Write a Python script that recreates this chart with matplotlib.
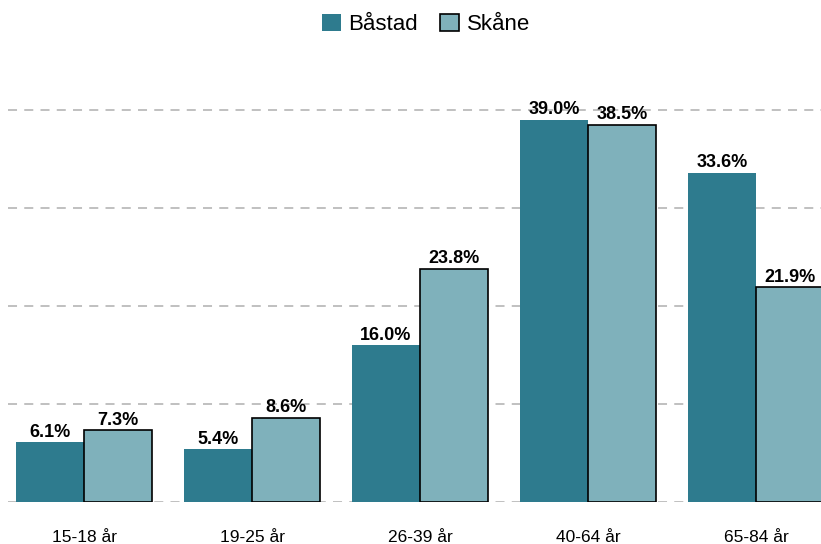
import numpy as np
import matplotlib.pyplot as plt
from matplotlib.patches import Patch

plt.rcParams['font.family'] = ['Liberation Sans', 'DejaVu Sans']

# data
groups = ["15-18 år", "19-25 år", "26-39 år", "40-64 år", "65-84 år"]
bastad = [6.1, 5.4, 16.0, 39.0, 33.6]
skane = [7.3, 8.6, 23.8, 38.5, 21.9]
series_names = ["Båstad", "Skåne"]

col_bastad = "#2e7b8e"
col_skane = "#7fb1bb"

fig = plt.figure(figsize=(8.21, 5.44), dpi=100)
ax = fig.add_axes([8 / 821, 0.0772, 813 / 821, 0.79])

x = np.arange(len(groups))
w = 0.405
b1 = ax.bar(x - w / 2, bastad, w, color=col_bastad, linewidth=0, zorder=3)
b2 = ax.bar(x + w / 2, skane, w, color=col_skane, edgecolor="black",
            linewidth=1.2, zorder=3)

for bars, vals in [(b1, bastad), (b2, skane)]:
    for r, v in zip(bars, vals):
        ax.text(r.get_x() + r.get_width() / 2, v + 0.15, f"{v:.1f}%",
                ha="center", va="bottom", fontsize=13, fontweight="bold",
                zorder=4)

xmin = -0.405 - 8 / 168
ax.set_xlim(xmin, xmin + 813 / 168)
ax.set_ylim(0, 40 * 0.79 * 544 / 392)
ax.set_yticks([0, 10, 20, 30, 40])
ax.yaxis.grid(True, linestyle=(0, (5, 4)), color="#bbbbbb", linewidth=1.3,
              zorder=0)
ax.set_yticklabels([])
ax.tick_params(axis="y", length=0)
ax.set_xticks(x)
ax.set_xticklabels(groups, fontsize=12.5)
ax.tick_params(axis="x", length=0, pad=20)
for s in ax.spines.values():
    s.set_visible(False)

handles = [Patch(facecolor=col_bastad, edgecolor="none"),
           Patch(facecolor=col_skane, edgecolor="black", linewidth=1.2)]
fig.legend(handles, series_names, loc="center", bbox_to_anchor=(0.519, 0.955),
           ncol=2, frameon=False, fontsize=16, handlelength=0.85,
           handleheight=0.85, columnspacing=1.0, handletextpad=0.35)

fig.savefig("out.png", dpi=100)
